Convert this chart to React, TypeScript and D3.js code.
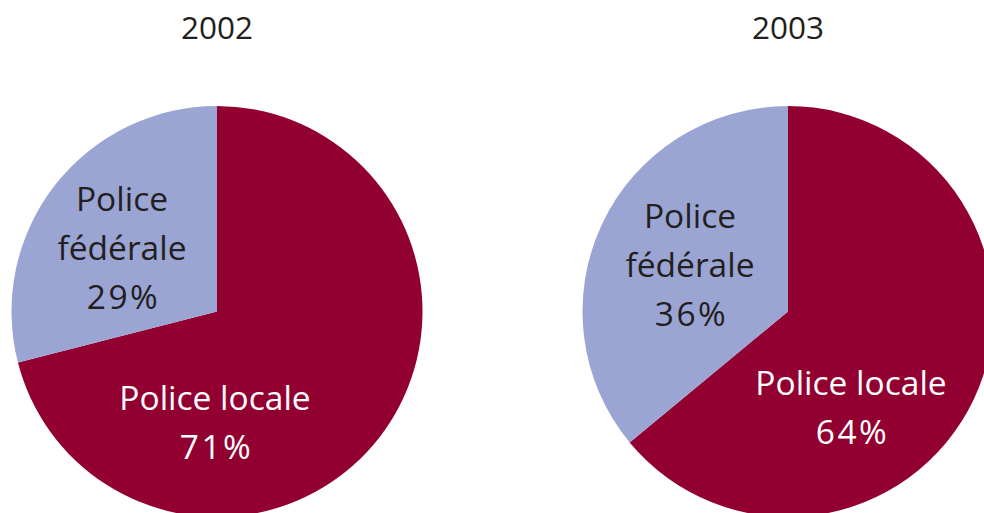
import React from "react";
import * as d3 from "d3";

const years = ["2002", "2003"];
const categories = ["Police locale", "Police fédérale"];
const localeValues = [71, 64];
const federaleValues = [29, 36];

const W = 984;
const H = 513;
const R = 205.5;
const centers = [
  { x: 217, y: 311.5 },
  { x: 788, y: 311.5 },
];
const colors = ["#920032", "#9BA5D4"];
const textColors = ["#ffffff", "#231f20"];
// label offsets relative to pie centre [locale, fédérale]
const labelOffsets = [
  [
    { dx: -2, dy: 111 },
    { dx: -95, dy: -63 },
  ],
  [
    { dx: 63, dy: 96 },
    { dx: -98, dy: -46 },
  ],
];
const FONT = "'Open Sans', 'Noto Sans', sans-serif";
const FS = 33.5;
const TFS = 31.5;
const LH = 49;

export default function App() {
  const pie = d3
    .pie<number>()
    .value((d) => d)
    .sort(null);
  const arc = d3.arc<d3.PieArcDatum<number>>().innerRadius(0).outerRadius(R);

  return (
    <svg
      width={W}
      height={H}
      style={{ position: "absolute", left: 0, top: 0, display: "block", background: "#fff" }}
    >
      {years.map((year, i) => {
        const vals = [localeValues[i], federaleValues[i]];
        const arcs = pie(vals);
        const c = centers[i];
        return (
          <g key={year}>
            <text
              x={c.x}
              y={39}
              textAnchor="middle"
              fontFamily={FONT}
              fontSize={TFS}
              fill="#231f20"
            >
              {year}
            </text>
            <g transform={`translate(${c.x},${c.y})`}>
              {arcs.map((a, j) => (
                <path key={j} d={arc(a) || ""} fill={colors[j]} />
              ))}
              {arcs.map((a, j) => {
                const off = labelOffsets[i][j];
                const words = categories[j].split(" ");
                const lines =
                  j === 0
                    ? [categories[j], `${vals[j]}%`]
                    : [words[0], words[1], `${vals[j]}%`];
                const n = lines.length;
                return (
                  <text
                    key={"t" + j}
                    textAnchor="middle"
                    fontFamily={FONT}
                    fontSize={FS}
                    fill={textColors[j]}
                  >
                    {lines.map((l, k) => {
                      const isPct = k === n - 1;
                      return (
                        <tspan
                          key={k}
                          x={off.dx + (isPct ? 1.5 : 0)}
                          y={off.dy + (k - (n - 1) / 2) * LH}
                          dy="0.35em"
                          letterSpacing={isPct ? 2.5 : 0}
                        >
                          {l}
                        </tspan>
                      );
                    })}
                  </text>
                );
              })}
            </g>
          </g>
        );
      })}
    </svg>
  );
}
